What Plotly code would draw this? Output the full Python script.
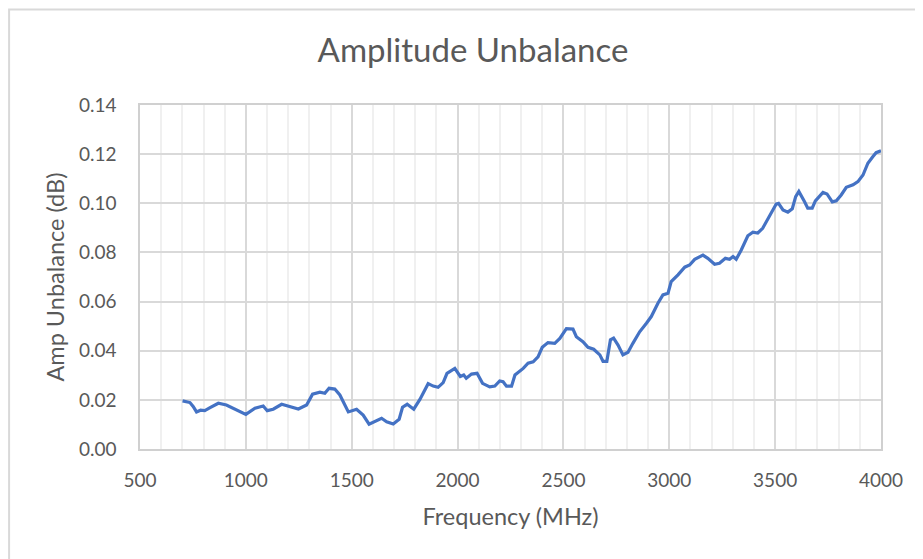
import plotly.graph_objects as go

freq_mhz = [
    701, 736, 751, 767, 786, 806, 831, 870, 908, 956,
    1000, 1043, 1082, 1101, 1129, 1169, 1208, 1248, 1287, 1315,
    1350, 1373, 1393, 1420, 1444, 1484, 1523, 1554, 1582, 1617,
    1641, 1665, 1696, 1724, 1740, 1762, 1777, 1793, 1822, 1861,
    1885, 1908, 1932, 1950, 1987, 2013, 2029, 2041, 2066, 2092,
    2118, 2152, 2176, 2199, 2215, 2231, 2255, 2271, 2310, 2333,
    2357, 2380, 2400, 2427, 2459, 2483, 2514, 2545, 2561, 2592,
    2616, 2643, 2672, 2687, 2705, 2722, 2737, 2758, 2781, 2805,
    2828, 2860, 2892, 2915, 2947, 2970, 2994, 3009, 3041, 3073,
    3096, 3120, 3159, 3182, 3214, 3237, 3265, 3285, 3301, 3316,
    3340, 3371, 3395, 3418, 3441, 3474, 3505, 3516, 3537, 3560,
    3581, 3597, 3612, 3639, 3654, 3675, 3690, 3726, 3745, 3770,
    3789, 3812, 3836, 3868, 3891, 3915, 3938, 3962, 3977, 4000,
]

amp_unbalance_db = [
    0.0196, 0.0189, 0.0173, 0.0151, 0.0158, 0.0156, 0.0168, 0.0186, 0.0179, 0.0158,
    0.0141, 0.0166, 0.0175, 0.0156, 0.0162, 0.0182, 0.0173, 0.0163, 0.0179, 0.0223,
    0.0231, 0.0227, 0.0247, 0.0244, 0.0220, 0.0151, 0.0162, 0.0138, 0.0101, 0.0116,
    0.0125, 0.0111, 0.0102, 0.0121, 0.0170, 0.0182, 0.0173, 0.0162, 0.0202, 0.0266,
    0.0256, 0.0251, 0.0270, 0.0308, 0.0328, 0.0295, 0.0301, 0.0288, 0.0305, 0.0308,
    0.0267, 0.0253, 0.0256, 0.0277, 0.0274, 0.0256, 0.0256, 0.0301, 0.0328, 0.0349,
    0.0355, 0.0375, 0.0414, 0.0433, 0.0430, 0.0450, 0.0490, 0.0488, 0.0457, 0.0437,
    0.0414, 0.0406, 0.0383, 0.0357, 0.0357, 0.0444, 0.0451, 0.0423, 0.0383, 0.0394,
    0.0430, 0.0477, 0.0512, 0.0539, 0.0594, 0.0627, 0.0634, 0.0681, 0.0709, 0.0740,
    0.0749, 0.0772, 0.0789, 0.0776, 0.0752, 0.0756, 0.0776, 0.0772, 0.0783, 0.0772,
    0.0810, 0.0868, 0.0882, 0.0879, 0.0898, 0.0946, 0.0997, 0.1000, 0.0973, 0.0964,
    0.0978, 0.1027, 0.1048, 0.1006, 0.0980, 0.0980, 0.1010, 0.1044, 0.1038, 0.1006,
    0.1010, 0.1034, 0.1065, 0.1075, 0.1088, 0.1115, 0.1163, 0.1190, 0.1206, 0.1214,
]

x_tick_vals = [500, 1000, 1500, 2000, 2500, 3000, 3500, 4000]
y_tick_vals = [0.00, 0.02, 0.04, 0.06, 0.08, 0.10, 0.12, 0.14]

title_text = "Amplitude Unbalance"
x_title = "Frequency (MHz)"
y_title = "Amp Unbalance (dB)"

FONT = "Lato"
TXT = "#595959"

# the page places the figure 8px in from the top-left corner
L, R, T, B = 132, 49.5, 97, 118
PW = 923 - L - R
PH = 559 - T - B

fig = go.Figure()
fig.add_trace(go.Scatter(
    x=freq_mhz, y=amp_unbalance_db, mode="lines",
    line=dict(color="#4472C4", width=3.2, shape="linear"),
    showlegend=False, hoverinfo="x+y",
))

fig.update_layout(
    width=923, height=559,
    margin=dict(l=L, r=R, t=T, b=B),
    paper_bgcolor="white", plot_bgcolor="white",
    font=dict(family=FONT, color=TXT),
    title=dict(text=title_text, x=465 / 923, xanchor="center", xref="container",
               y=1 - 42 / 559, yanchor="middle", yref="container",
               font=dict(family=FONT, size=33, color=TXT)),
    xaxis=dict(
        range=[500, 4000], tickvals=x_tick_vals,
        ticktext=[str(v) for v in x_tick_vals],
        tickfont=dict(size=19, color=TXT), ticks="", ticklabelstandoff=13,
        showgrid=True, gridcolor="#D9D9D9", gridwidth=1.5,
        minor=dict(dtick=100, showgrid=True, gridcolor="#F0F0F0", gridwidth=1.5),
        showline=True, linecolor="#D0D0D0", linewidth=1.5, mirror=True,
        zeroline=False,
        title=dict(text=x_title, font=dict(size=23.5, color=TXT), standoff=19),
    ),
    yaxis=dict(
        range=[0, 0.14], tickvals=y_tick_vals,
        ticktext=["%.2f" % v for v in y_tick_vals],
        tickfont=dict(size=19, color=TXT), ticks="", ticklabelstandoff=18,
        showgrid=True, gridcolor="#D9D9D9", gridwidth=1.5,
        showline=True, linecolor="#D0D0D0", linewidth=1.5, mirror=True,
        zeroline=False,
        title=dict(text=y_title, font=dict(size=23.5, color=TXT), standoff=8),
    ),
    shapes=[dict(type="rect", xref="paper", yref="paper",
                 x0=(1 - L) / PW, x1=1.3, y0=-0.6, y1=(PH + T - 1.5) / PH,
                 line=dict(color="#D9D9D9", width=2), fillcolor="rgba(0,0,0,0)",
                 layer="below")],
)

fig.write_html("out.html")
